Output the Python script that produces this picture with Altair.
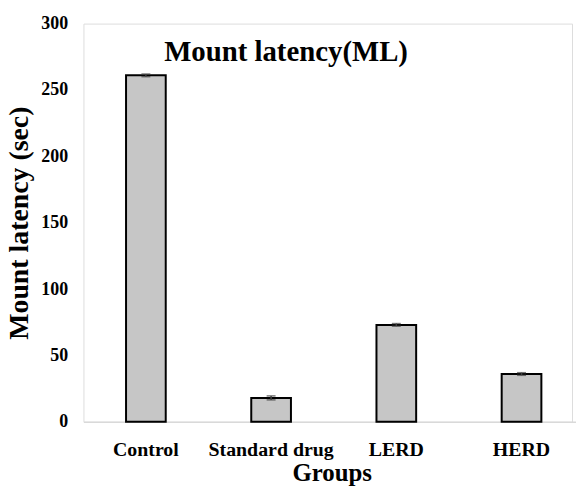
import altair as alt
import pandas as pd

groups = ["Control", "Standard drug", "LERD", "HERD"]
means = [261, 18, 73, 36]
errors = [1.0, 1.5, 1.0, 1.0]

df = pd.DataFrame({"group": groups, "mean": means, "err": errors})
df["lo"] = df["mean"] - df["err"]
df["hi"] = df["mean"] + df["err"]

FONT = "Liberation Serif"

x_enc = alt.X(
    "group:N",
    sort=groups,
    scale=alt.Scale(paddingInner=0.683, paddingOuter=0.34, range=[0, 504]),
    axis=alt.Axis(
        title="Groups",
        labelAngle=0,
        labelFont=FONT,
        labelFontWeight="bold",
        labelFontSize=20,
        labelColor="black",
        labelPadding=18,
        ticks=False,
        tickSize=0,
        domainColor="#d9d9d9",
        domainWidth=1.5,
        titleFont=FONT,
        titleFontWeight="bold",
        titleFontSize=25,
        titleColor="black",
        titlePadding=1,
        titleX=250,
    ),
)

y_scale = alt.Scale(domain=[0, 300])

bars = alt.Chart(df).mark_bar(
    fill="#c6c6c6", stroke="black", strokeWidth=2
).encode(
    x=x_enc,
    y=alt.Y(
        "mean:Q",
        scale=y_scale,
        axis=alt.Axis(
            title="Mount latency (sec)",
            values=[0, 50, 100, 150, 200, 250, 300],
            grid=False,
            domain=False,
            ticks=False,
            tickSize=0,
            labelFont=FONT,
            labelFontWeight="bold",
            labelFontSize=18,
            labelColor="black",
            labelPadding=16,
            titleFont=FONT,
            titleFontWeight="bold",
            titleFontSize=28,
            titleColor="black",
            titlePadding=7,
        ),
    ),
)

rules = alt.Chart(df).mark_rule(color="#404040", strokeWidth=1.5).encode(
    x=alt.X("group:N", sort=groups),
    y=alt.Y("lo:Q", scale=y_scale),
    y2="hi:Q",
)
caps_hi = alt.Chart(df).mark_tick(color="#404040", thickness=1.5, size=9, orient="horizontal").encode(
    x=alt.X("group:N", sort=groups),
    y=alt.Y("hi:Q", scale=y_scale),
)
caps_lo = alt.Chart(df).mark_tick(color="#404040", thickness=1.5, size=9, orient="horizontal").encode(
    x=alt.X("group:N", sort=groups),
    y=alt.Y("lo:Q", scale=y_scale),
)

chart = alt.layer(bars, rules, caps_hi, caps_lo).properties(
    width=492,
    height=401,
    title=alt.TitleParams(
        "Mount latency(ML)",
        font=FONT,
        fontWeight="bold",
        fontSize=29,
        color="black",
        anchor="middle",
        baseline="alphabetic",
        offset=0,
        dx=-42,
        dy=76,
    ),
    autosize=alt.AutoSizeParams(type="none"),
    padding={"left": 76, "top": 14, "right": 4, "bottom": 66},
).configure_view(strokeWidth=0, stroke="transparent").configure(background="white")

chart.save("out.html", embed_options={"renderer": "svg", "actions": False})
